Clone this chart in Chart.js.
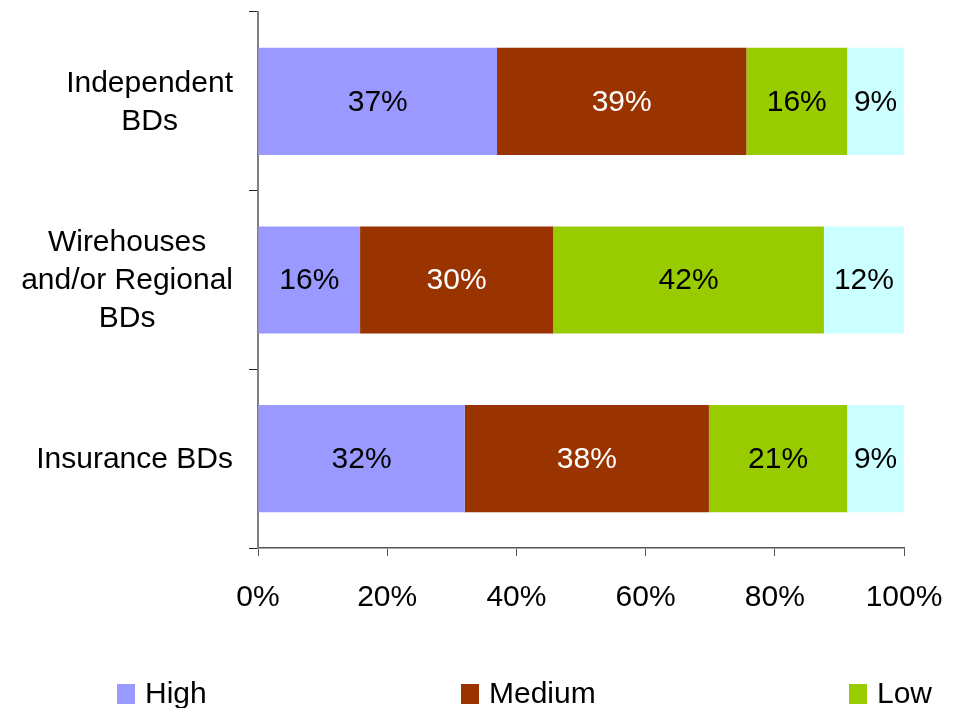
<!DOCTYPE html>
<html>
<head>
<meta charset="utf-8">
<script src="https://cdn.jsdelivr.net/npm/chart.js@4/dist/chart.umd.min.js"></script>
<style>
    html, body { margin: 0; padding: 0; background: #fff; overflow: hidden; }
    #wrap { position: relative; width: 964px; height: 708px; }
    #legend { position: absolute; left: 0; top: 0; width: 964px; height: 708px; pointer-events: none; }
    .item { position: absolute; font: 30px "Liberation Sans", Arial, sans-serif; color: #000; white-space: nowrap; }
    .item span.box { display: inline-block; width: 18px; height: 20px; margin-right: 10px; vertical-align: -1px; }
</style>
</head>
<body>
<div id="wrap">
    <canvas id="bdChart" width="964" height="708"></canvas>
    <div id="legend"></div>
</div>
<script>
// categories, top to bottom
const categories = [
    ['Independent', 'BDs'],
    ['Wirehouses', 'and/or Regional', 'BDs'],
    ['Insurance BDs']
];
const seriesNames = ['High', 'Medium', 'Low', 'None'];
const seriesColors = ['#9999FF', '#993300', '#99CC00', '#CCFFFF'];
const labelColors = ['#000', '#fff', '#000', '#000'];

// share of respondents (%), per category
const high = [37, 15.8, 32];
const medium = [38.6, 29.9, 37.8];
const low = [15.6, 41.9, 21.4];
const none = [8.8, 12.4, 8.8];

const xTicks = [0, 20, 40, 60, 80, 100];

const font = '"Liberation Sans", Arial, sans-serif';

// labels in the middle of each bar segment
const segmentLabels = {
    id: 'segmentLabels',
    afterDatasetsDraw(chart) {
        const ctx = chart.ctx;
        ctx.save();
        ctx.font = '30px ' + font;
        ctx.textAlign = 'center';
        ctx.textBaseline = 'middle';
        chart.data.datasets.forEach((ds, i) => {
            const meta = chart.getDatasetMeta(i);
            meta.data.forEach((bar, j) => {
                ctx.fillStyle = labelColors[i];
                ctx.fillText(Math.round(ds.data[j]) + '%', (bar.x + bar.base) / 2, bar.y + 1);
            });
        });
        ctx.restore();
    }
};

// category names, each block centred on its own widest line
const categoryLabels = {
    id: 'categoryLabels',
    afterDraw(chart) {
        const ctx = chart.ctx;
        const yScale = chart.scales.y;
        const rightEdge = chart.chartArea.left - 25;
        const lineH = 38;
        ctx.save();
        ctx.font = '30px ' + font;
        ctx.fillStyle = '#000';
        ctx.textAlign = 'center';
        ctx.textBaseline = 'middle';
        categories.forEach((lines, i) => {
            const w = Math.max(...lines.map(l => ctx.measureText(l).width));
            const cx = rightEdge - w / 2;
            const cy = yScale.getPixelForValue(i) + 1;
            const top = cy - (lines.length - 1) * lineH / 2;
            lines.forEach((l, k) => ctx.fillText(l, cx, top + k * lineH));
        });
        ctx.restore();
    }
};

const datasets = [high, medium, low, none].map((values, i) => ({
    label: seriesNames[i],
    data: values,
    backgroundColor: seriesColors[i],
    borderWidth: 0,
    barPercentage: 0.6,
    categoryPercentage: 1
}));

const ctx = document.getElementById('bdChart').getContext('2d');
new Chart(ctx, {
    type: 'bar',
    data: {
        labels: categories.map(c => c.join(' ')),
        datasets: datasets
    },
    options: {
        indexAxis: 'y',
        responsive: false,
        animation: false,
        layout: { padding: { top: 12, right: 60, left: 0, bottom: 0 } },
        plugins: {
            legend: { display: false },
            tooltip: { enabled: false }
        },
        scales: {
            x: {
                stacked: true,
                min: 0,
                max: 100,
                afterBuildTicks: scale => { scale.ticks = xTicks.map(v => ({ value: v })); },
                afterFit: scale => {
                    scale.height = 160;
                    scale.paddingLeft = 0;
                    scale.paddingRight = 0;
                },
                ticks: {
                    callback: v => v + '%',
                    color: '#000',
                    padding: 24,
                    maxRotation: 0,
                    font: { family: font, size: 30 }
                },
                grid: { drawOnChartArea: false, tickLength: 8, color: '#555' },
                border: { color: '#555', width: 1.5 }
            },
            y: {
                stacked: true,
                afterFit: scale => { scale.width = 258; },
                ticks: { display: false },
                grid: { offset: true, drawOnChartArea: false, tickLength: 9, color: '#222' },
                border: { color: '#808080', width: 2 }
            }
        }
    },
    plugins: [segmentLabels, categoryLabels]
});

// legend; the fourth entry falls on a second row below the page edge
const legendPos = [[117, 676], [461, 676], [849, 676], [117, 730]];
const legend = document.getElementById('legend');
seriesNames.forEach((name, i) => {
    const div = document.createElement('div');
    div.className = 'item';
    div.style.left = legendPos[i][0] + 'px';
    div.style.top = legendPos[i][1] + 'px';
    div.innerHTML = '<span class="box" style="background:' + seriesColors[i] + '"></span>' + name;
    legend.appendChild(div);
});
</script>
</body>
</html>
